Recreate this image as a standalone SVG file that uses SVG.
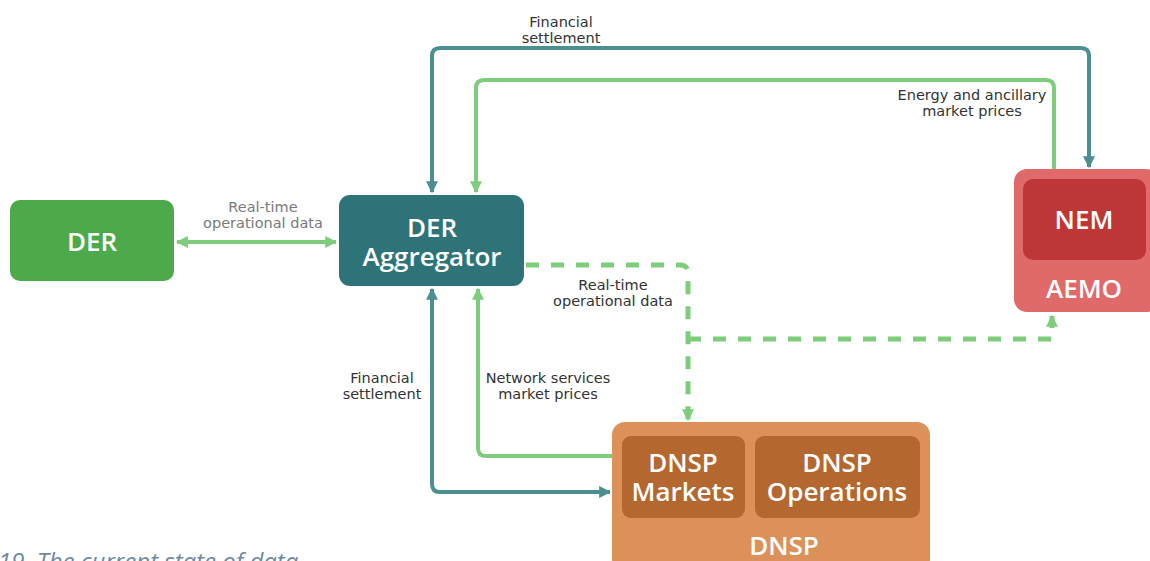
<svg xmlns="http://www.w3.org/2000/svg" width="1150" height="561" viewBox="0 0 1150 561">
<style>
.lbl{font-family:"DejaVu Sans",Verdana,sans-serif;font-size:14.5px;fill:#333;text-anchor:middle}
.lbl2{font-family:"DejaVu Sans",Verdana,sans-serif;font-size:14.5px;fill:#7a7a7a;text-anchor:middle}
.nt{font-family:"Open Sans","Noto Sans",sans-serif;font-size:26px;font-weight:600;fill:#fff;text-anchor:middle}
.teal{fill:none;stroke:#4b8f90;stroke-width:4;stroke-linejoin:round}
.grn{fill:none;stroke:#7dcd7d;stroke-width:4;stroke-linejoin:round}
.dash{fill:none;stroke:#7dcd7d;stroke-width:5;stroke-dasharray:13 12}
.cap{font-family:"Open Sans","Noto Sans",sans-serif;font-size:24px;font-style:italic;fill:#6f89a4}
</style>
<defs>
<marker id="mt" viewBox="0 0 10 10" refX="9" refY="5" markerWidth="12" markerHeight="12" markerUnits="userSpaceOnUse" orient="auto-start-reverse"><path d="M0,0 L10,5 L0,10 z" fill="#4b8f90"/></marker>
<marker id="mg" viewBox="0 0 10 10" refX="9" refY="5" markerWidth="12" markerHeight="12" markerUnits="userSpaceOnUse" orient="auto-start-reverse"><path d="M0,0 L10,5 L0,10 z" fill="#7dcd7d"/></marker>
</defs>
<rect width="1150" height="561" fill="#fff"/>
<g id="connectors">
<path class="teal" d="M432,192 V56 Q432,48 440,48 H1081 Q1089,48 1089,56 V167" marker-start="url(#mt)" marker-end="url(#mt)"/>
<path class="grn" d="M1054,180 V88 Q1054,80 1046,80 H484 Q476,80 476,88 V192" marker-end="url(#mg)"/>
<path class="teal" d="M432,289 V484 Q432,492 440,492 H610" marker-start="url(#mt)" marker-end="url(#mt)"/>
<path class="grn" d="M622,456 H486 Q478,456 478,448 V289" marker-end="url(#mg)"/>
<path class="grn" d="M177,242 H336" marker-start="url(#mg)" marker-end="url(#mg)"/>
<path class="dash" d="M526,265 H680 Q688,265 688,273 V420" marker-end="url(#mg)"/>
<path class="dash" d="M688,339 H1052 V316" marker-end="url(#mg)"/>
<text class="lbl2" x="263" y="212">Real-time</text>
<text class="lbl2" x="263" y="228">operational data</text>
<text class="lbl" x="561" y="27">Financial</text>
<text class="lbl" x="561" y="43">settlement</text>
<text class="lbl" x="972" y="100">Energy and ancillary</text>
<text class="lbl" x="972" y="116">market prices</text>
<text class="lbl" x="613" y="290">Real-time</text>
<text class="lbl" x="613" y="306">operational data</text>
<text class="lbl" x="382" y="383">Financial</text>
<text class="lbl" x="382" y="399">settlement</text>
<text class="lbl" x="548" y="383">Network services</text>
<text class="lbl" x="548" y="399">market prices</text>
</g>
<g id="der">
<rect x="10" y="200" width="164" height="81" rx="10" fill="#4caa4b"/>
<text class="nt" x="92" y="251">DER</text>
</g>
<g id="aggregator">
<rect x="339" y="195" width="185" height="91" rx="11" fill="#2e7378"/>
<text class="nt" x="432" y="237">DER</text>
<text class="nt" x="432" y="266">Aggregator</text>
</g>
<g id="aemo">
<rect x="1014" y="169" width="145" height="143" rx="13" fill="#e0696a"/>
<rect x="1023" y="179" width="123" height="81" rx="10" fill="#bf3638"/>
<text class="nt" x="1084" y="229">NEM</text>
<text class="nt" x="1084" y="298">AEMO</text>
</g>
<g id="dnsp">
<rect x="612" y="422" width="318" height="150" rx="13" fill="#dc915a"/>
<rect x="622" y="436" width="123" height="82" rx="9" fill="#b4672f"/>
<rect x="755" y="436" width="165" height="82" rx="9" fill="#b4672f"/>
<text class="nt" x="683" y="472">DNSP</text>
<text class="nt" x="683" y="501">Markets</text>
<text class="nt" x="837" y="472">DNSP</text>
<text class="nt" x="837" y="501">Operations</text>
<text class="nt" x="784" y="555">DNSP</text>
</g>
<text class="cap" x="-2" y="570">19. The current state of data</text>
</svg>
